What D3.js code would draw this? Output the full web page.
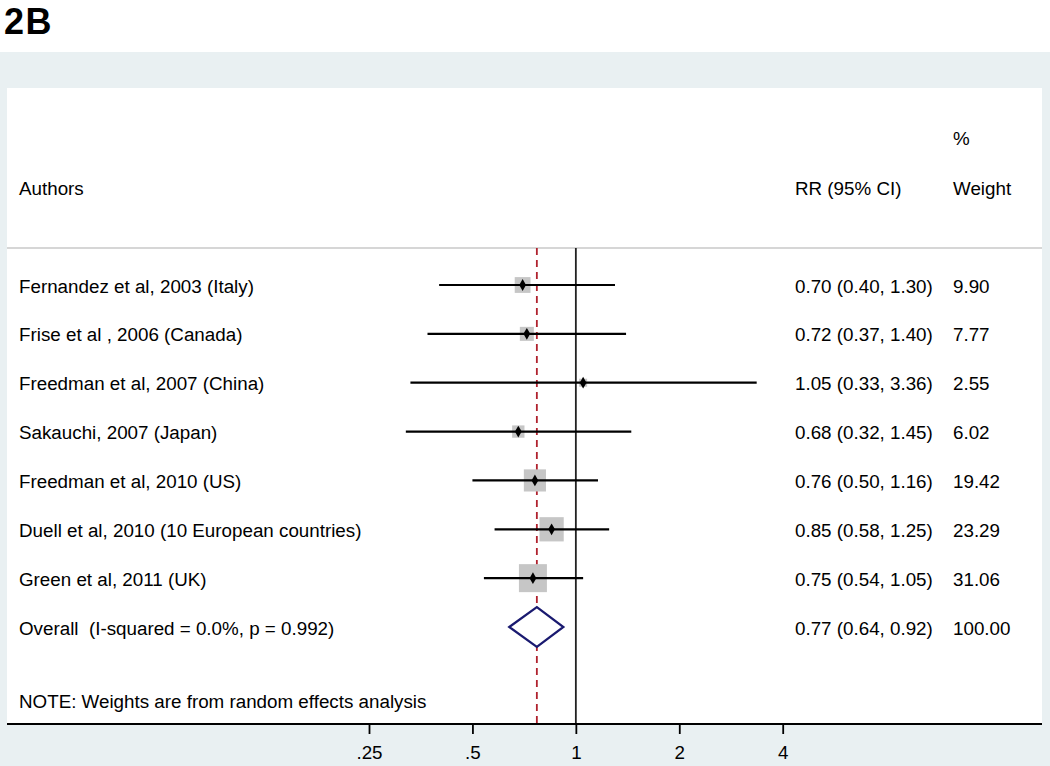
<!DOCTYPE html>
<html><head><meta charset="utf-8">
<script src="https://cdn.jsdelivr.net/npm/d3@7"></script>
<style>html,body{margin:0;padding:0;background:#fff;}svg{display:block;}</style>
</head><body>
<svg id="c" width="1050" height="766"></svg>
<script>
const authors = ["Fernandez et al, 2003 (Italy)","Frise et al , 2006 (Canada)","Freedman et al, 2007 (China)","Sakauchi, 2007 (Japan)","Freedman et al, 2010 (US)","Duell et al, 2010 (10 European countries)","Green et al, 2011 (UK)"];
const rr = [0.70,0.72,1.05,0.68,0.76,0.85,0.75];
const lo = [0.40,0.37,0.33,0.32,0.50,0.58,0.54];
const hi = [1.30,1.40,3.36,1.45,1.16,1.25,1.05];
const weights = [9.90,7.77,2.55,6.02,19.42,23.29,31.06];
const overallLabel = "Overall  (I-squared = 0.0%, p = 0.992)";
const overall = [0.77,0.64,0.92];
const overallWeight = 100.00;
const tickValues = [0.25,0.5,1,2,4];
const tickLabels = [".25",".5","1","2","4"];

const svg = d3.select("#c");
const font = "'Liberation Sans', Arial, sans-serif";
const fs = 18.8;
const bg = "#e9f0f2";
svg.append("rect").attr("x",0).attr("y",52).attr("width",1050).attr("height",714).attr("fill",bg);
svg.append("rect").attr("x",7).attr("y",88).attr("width",1035).attr("height",636).attr("fill","#fff");
svg.append("text").attr("x",4).attr("y",34).text("2B")
  .attr("font-family","'Liberation Sans', Arial, sans-serif").attr("font-weight",700).attr("font-size",36)
  .attr("letter-spacing",1.5).attr("fill","#000");

const x = d3.scaleLog().base(2).domain([0.25,4]).range([369,782.7]);
const y = d3.scaleLinear().domain([0,7]).range([285,627]);
const side = d3.scaleSqrt().domain([0,31.06]).range([0,28]);

const fmt = d3.format(".2f");
const txt = (xx,yy,s)=>svg.append("text").attr("x",xx).attr("y",yy).text(s)
  .attr("font-family",font).attr("font-size",fs).attr("fill","#000").style("white-space","pre");

// header
txt(19,195,"Authors");
txt(795,195,"RR (95% CI)");
txt(953,145,"%");
txt(953,195,"Weight");
svg.append("line").attr("x1",7).attr("x2",1042).attr("y1",248).attr("y2",248).attr("stroke","#c8c8c8").attr("stroke-width",1.5);

// reference lines
svg.append("line").attr("x1",x(1)).attr("x2",x(1)).attr("y1",248).attr("y2",724).attr("stroke","#222").attr("stroke-width",1.8);
svg.append("line").attr("x1",x(overall[0])).attr("x2",x(overall[0])).attr("y1",248).attr("y2",724)
  .attr("stroke","#b0222e").attr("stroke-width",1.8).attr("stroke-dasharray","7,5");

// rows
authors.forEach((a,i)=>{
  const yy = y(i);
  const s = side(weights[i]);
  svg.append("rect").attr("x",x(rr[i])-s/2).attr("y",yy-s/2).attr("width",s).attr("height",s).attr("fill","#c6c6c6");
  svg.append("line").attr("x1",x(lo[i])).attr("x2",x(hi[i])).attr("y1",yy).attr("y2",yy).attr("stroke","#000").attr("stroke-width",2.2);
  svg.append("path").attr("d",d3.symbol(d3.symbolDiamond,40)()).attr("transform",`translate(${x(rr[i])},${yy})`).attr("fill","#000");
  txt(19,yy+7.5,a);
  txt(795,yy+7.5,`${fmt(rr[i])} (${fmt(lo[i])}, ${fmt(hi[i])})`);
  txt(953,yy+7.5,fmt(weights[i]));
});

// overall
const yo = y(7);
svg.append("path").attr("d",`M${x(overall[1])},${yo} L${x(overall[0])},${yo-20} L${x(overall[2])},${yo} L${x(overall[0])},${yo+20} Z`)
  .attr("fill","#fff").attr("stroke","#1a1a70").attr("stroke-width",2.2);
txt(19,yo+8,overallLabel);
txt(795,yo+8,`${fmt(overall[0])} (${fmt(overall[1])}, ${fmt(overall[2])})`);
txt(953,yo+8,fmt(overallWeight));
txt(19,708,"NOTE: Weights are from random effects analysis");

// axis
svg.append("line").attr("x1",7).attr("x2",1042).attr("y1",724).attr("y2",724).attr("stroke","#000").attr("stroke-width",1.8);
const ax = svg.append("g").attr("transform","translate(0,724)")
  .call(d3.axisBottom(x).tickValues(tickValues).tickFormat((d,i)=>tickLabels[i]).tickSize(10).tickPadding(12));
ax.select(".domain").remove();
ax.selectAll(".tick line").attr("stroke","#000").attr("stroke-width",1.8);
ax.selectAll(".tick text").attr("font-family",font).attr("font-size",fs).attr("fill","#000");
</script>
</body></html>
